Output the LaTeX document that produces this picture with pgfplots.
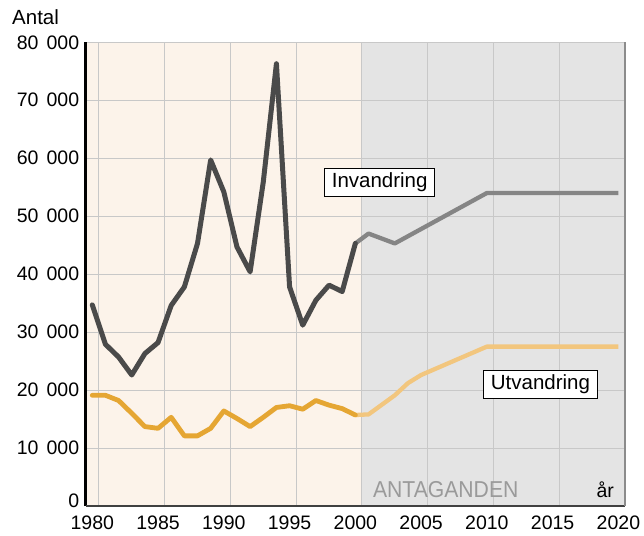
\documentclass[border=0pt]{standalone}
\usepackage{fontspec}
\setmainfont{Liberation Sans}
\usepackage{graphicx}
\usepackage{pgfplots}
\pgfplotsset{compat=1.18}
\definecolor{peach}{HTML}{FCF3EA}
\definecolor{proj}{HTML}{E4E4E4}
\definecolor{gridc}{HTML}{C8C8C8}
\definecolor{inv}{HTML}{4A4A4A}
\definecolor{invp}{HTML}{858585}
\definecolor{utv}{HTML}{E5A633}
\definecolor{utvp}{HTML}{F2C67E}
\definecolor{antag}{HTML}{9A9A9A}
\newcommand\sep{\hspace{0.42em}}
\begin{document}
\begin{tikzpicture}
\begin{axis}[
  scale only axis, width=539.3pt, height=463.7pt,
  at={(0,0)}, anchor=south west,
  xmin=1979.5, xmax=2020.5, ymin=0, ymax=80000,
  scaled y ticks=false,
  xtick={1980,1985,1990,1995,2000,2005,2010,2015,2020},
  xticklabels={1980,1985,1990,1995,2000,2005,2010,2015,2020},
  ytick={0,10000,20000,30000,40000,50000,60000,70000,80000},
  yticklabels={\raisebox{11.5pt}{0},10\sep000,20\sep000,30\sep000,40\sep000,50\sep000,60\sep000,70\sep000,80\sep000},
  major tick length=0pt,
  axis line style={draw=none},
  tick label style={font=\fontsize{19.5}{22}\selectfont},
  xticklabel style={yshift=-7.5pt, inner ysep=2pt},
  yticklabel style={xshift=-3pt},
  clip=false,
]
\fill[peach] (axis cs:1979.5,0) rectangle (axis cs:2000.5,80000);
\fill[proj] (axis cs:2000.5,0) rectangle (axis cs:2020.5,80000);
\pgfplotsinvokeforeach{10000,20000,30000,40000,50000,60000,70000,80000}{
  \draw[gridc, line width=1pt] (axis cs:1979.5,#1) -- (axis cs:2020.5,#1);}
\pgfplotsinvokeforeach{1980.5,1985.5,1990.5,1995.5,2000.5,2005.5,2010.5,2015.5}{
  \draw[gridc, line width=1pt] (axis cs:#1,0) -- (axis cs:#1,80000);}

\addplot[invp, line width=4.3pt, line join=round] coordinates {
 (2000,45300)(2001,47000)(2003,45300)(2010,54000)(2020,54000)};
\addplot[inv, line width=5pt, line join=round, line cap=round] coordinates {
 (1980,34700)(1981,27900)(1982,25700)(1983,22600)(1984,26300)(1985,28200)
 (1986,34600)(1987,37800)(1988,45300)(1989,59700)(1990,54200)(1991,44700)
 (1992,40400)(1993,55900)(1994,76300)(1995,37800)(1996,31200)(1997,35500)
 (1998,38100)(1999,37000)(2000,45300)};
\addplot[utvp, line width=4.3pt, line join=round] coordinates {
 (2000,15700)(2001,15800)(2003,19100)(2004,21200)(2005,22600)(2010,27500)(2020,27500)};
\addplot[utv, line width=4.8pt, line join=round, line cap=round] coordinates {
 (1980,19100)(1981,19100)(1982,18200)(1983,16000)(1984,13700)(1985,13400)
 (1986,15300)(1987,12100)(1988,12100)(1989,13400)(1990,16400)(1991,15100)
 (1992,13700)(1993,15300)(1994,17000)(1995,17300)(1996,16700)(1997,18200)
 (1998,17400)(1999,16800)(2000,15700)};

\draw[black, line width=2.5pt] (rel axis cs:0,0) -- (rel axis cs:0,1);
\draw[black!75, line width=2pt] (rel axis cs:0,0) -- (rel axis cs:1,0);
\draw[black!45, line width=1.2pt] (rel axis cs:1,0) -- (rel axis cs:1,1);

\node[draw=black, fill=white, line width=0.8pt, inner xsep=7pt, inner ysep=4.5pt,
  text height=14.5pt, text depth=4.5pt, font=\fontsize{20.5}{24}\selectfont]
  at (axis cs:2001.85,55860) {Invandring};
\node[draw=black, fill=white, line width=0.8pt, inner xsep=7pt, inner ysep=4.5pt,
  text height=14.5pt, text depth=4.5pt, font=\fontsize{20.5}{24}\selectfont]
  at (axis cs:2014.07,21030) {Utvandring};
\node[anchor=base, text=antag, inner sep=0pt, font=\fontsize{23}{26}\selectfont]
  at (axis cs:2006.87,1500) {\scalebox{0.92}[1]{ANTAGANDEN}};
\node[anchor=base, inner sep=0pt, font=\fontsize{19.5}{22}\selectfont]
  at (axis cs:2019.0,1500) {år};
\end{axis}
\node[anchor=base west, inner sep=0pt, font=\fontsize{20.5}{24}\selectfont] at (-73.7pt,481pt) {Antal};
\pgfresetboundingbox
\path[use as bounding box] (-85.7pt,-29pt) rectangle (558.3pt,506pt);
\end{tikzpicture}
\end{document}
